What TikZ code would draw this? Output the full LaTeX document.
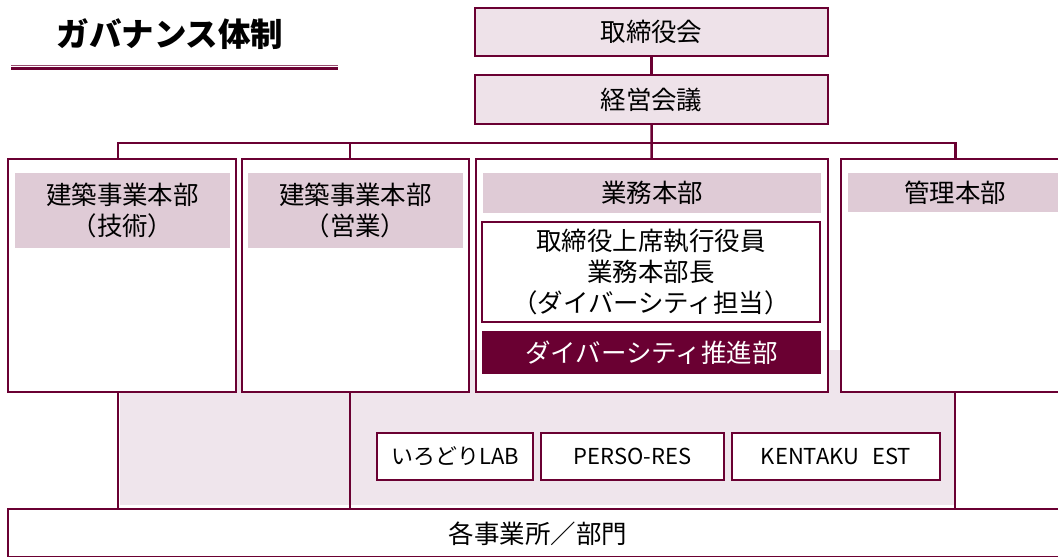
\documentclass[tikz,border=0pt]{standalone}
\usepackage{fontspec}
\setmainfont{Noto Sans CJK JP}
\definecolor{maroon}{HTML}{6A0032}
\definecolor{lightbox}{HTML}{EEE2E9}
\definecolor{band}{HTML}{DFCBD6}
\definecolor{bgpink}{HTML}{EFE5EC}
\tikzset{
  wh/.style 2 args={minimum width=#1*0.02cm, minimum height=#2*0.02cm},
  frame/.style={draw=maroon, line width=1.15pt, inner sep=0pt, align=center, font=\fontsize{14.5}{17.5}\selectfont},
  topbox/.style={frame, fill=lightbox},
  colbox/.style={frame, fill=white},
  bandbox/.style={fill=band, inner sep=0pt, align=center, font=\fontsize{14.5}{17.5}\selectfont},
  darkbox/.style={fill=maroon, text=white, inner sep=0pt, align=center, font=\fontsize{14.5}{17.5}\selectfont},
  smallbox/.style={frame, fill=white, font=\fontsize{12.5}{15}\selectfont},
  conn/.style={draw=maroon, line width=1.35pt},
}
\begin{document}
\begin{tikzpicture}[x=0.02cm, y=-0.02cm]
\useasboundingbox (0,0) rectangle (1058,556);
% title
\node (title) at (170,34) {\fontsize{18.5}{22}\selectfont\bfseries ガバナンス体制};
\draw[maroon!70, line width=0.6pt] (11,65.3) -- (338,65.3);
\draw[maroon, line width=1.9pt] (11,68.8) -- (338,68.8);
% background
\fill[bgpink] (120,350) rectangle (955,505);
% top boxes
\node[topbox, wh={353}{48}] (board) at (651.5,32) {取締役会};
\node[topbox, wh={353}{49}] (mgmt) at (651.5,99.5) {経営会議};
% columns
\node[colbox, wh={228}{233}] (c1) at (122,275.5) {};
\node[colbox, wh={227}{233}] (c2) at (355.5,275.5) {};
\node[colbox, wh={352}{233}] (c3) at (652,275.5) {};
\node[colbox, wh={228}{233}] (c4) at (955,275.5) {};
% headers
\node[bandbox, wh={215}{75}] (h1) at (122.5,210.5) {建築事業本部\\（技術）};
\node[bandbox, wh={215}{75}] (h2) at (355.5,210.5) {建築事業本部\\（営業）};
\node[bandbox, wh={338}{40}] (h3) at (652,193) {業務本部};
\node[bandbox, wh={214}{39}] (h4) at (955,192.5) {管理本部};
\node[frame, fill=white, wh={338}{100}, line width=0.9pt] (exec) at (651,272) {取締役上席執行役員\\業務本部長\\（ダイバーシティ担当）};
\node[darkbox, wh={339}{43}] (div) at (651.5,352.5) {ダイバーシティ推進部};
% bottom
\node[frame, wh={1058}{48}] (base) at (537,533) {};
\node (basetext) at (538,534) {\fontsize{14.5}{17.5}\selectfont 各事業所／部門};
% small boxes
\node[smallbox, wh={156}{47}] (s1) at (455,456.5) {いろどりLAB};
\node[smallbox, wh={183}{47}] (s2) at (632.5,456.5) {PERSO-RES};
\node[smallbox, wh={208}{47}] (s3) at (836,456.5) {KENTAKU\hspace{0.6em}EST};
% connectors
\coordinate (bus) at (652,143);
\coordinate (t1) at (118,158.5);
\coordinate (t2) at (350,158.5);
\coordinate (t4) at (955.5,158.5);
\draw[conn] (board) -- (mgmt);
\draw[conn] (mgmt) -- (c3);
\draw[conn] (t1) -- (t1 |- bus) -- (t4 |- bus) -- (t4);
\draw[conn] (t2) -- (t2 |- bus);
\coordinate (b1) at (118,392);
\coordinate (b2) at (350,392);
\coordinate (b4) at (955,392);
\draw[conn] (b1) -- (b1 |- base.north);
\draw[conn] (b2) -- (b2 |- base.north);
\draw[conn] (b4) -- (b4 |- base.north);
\end{tikzpicture}
\end{document}
